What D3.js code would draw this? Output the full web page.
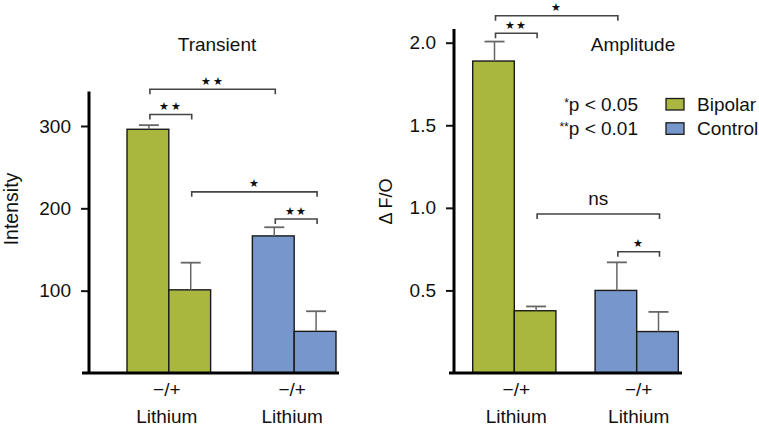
<!DOCTYPE html>
<html>
<head>
<meta charset="utf-8">
<script src="https://cdn.jsdelivr.net/npm/d3@7"></script>
<style>
  html, body { margin: 0; padding: 0; background: #fff; }
  svg { display: block; }
  text { font-family: "Liberation Sans", Arial, Helvetica, sans-serif; fill: #111; }
</style>
</head>
<body>
<svg id="chart" width="759" height="428"></svg>
<script>
// ---------- data ----------
const groups = ["Bipolar", "Control"];
const treatments = ["-", "+"];
const groupColors = ["#a9b73f", "#7796cb"];

const transientMeans = [[296, 101], [166.5, 50.6]];
const transientErrors = [[5, 33], [10.5, 24.4]];
const transientTicks = [100, 200, 300];

const amplitudeMeans = [[1.889, 0.377], [0.5, 0.251]];
const amplitudeErrors = [[0.118, 0.026], [0.17, 0.119]];
const amplitudeTicks = [0.5, 1.0, 1.5, 2.0];

// brackets: [groupA, treatA, groupB, treatB, level, label]
const transientBrackets = [
  [0, 0, 0, 1, 314, "★★"],
  [0, 0, 1, 0, 344.6, "★★"],
  [0, 1, 1, 1, 220, "★"],
  [1, 0, 1, 1, 187, "★★"]
];
const amplitudeBrackets = [
  [0, 0, 0, 1, 2.057, "★★"],
  [0, 0, 1, 0, 2.163, "★"],
  [0, 1, 1, 1, 0.963, "ns"],
  [1, 0, 1, 1, 0.734, "★"]
];

const xLabelTop = "\u2212/+";
const xLabelBottom = "Lithium";
const pValueNotes = [["*", "p < 0.05"], ["**", "p < 0.01"]];

// ---------- drawing ----------
const svg = d3.select("#chart");
const baseY = 373;
const FS = 19;

function panel(cfg) {
  const g = svg.append("g");
  const y = d3.scaleLinear().domain([0, cfg.yMax]).range([baseY, cfg.yTop]);
  const xg = d3.scaleBand().domain(d3.range(groups.length)).range(cfg.barRange).paddingInner(cfg.pad).paddingOuter(0);
  const xs = d3.scaleBand().domain(d3.range(treatments.length)).range([0, xg.bandwidth()]);
  const cx = (gi, ti) => xg(gi) + xs(ti) + xs.bandwidth() / 2;

  // bars
  groups.forEach((gName, gi) => {
    treatments.forEach((t, ti) => {
      const v = cfg.means[gi][ti];
      g.append("rect")
        .attr("x", xg(gi) + xs(ti))
        .attr("y", y(v))
        .attr("width", xs.bandwidth())
        .attr("height", y(0) - y(v))
        .attr("fill", groupColors[gi])
        .attr("stroke", "#1a1a1a")
        .attr("stroke-width", 1.4);
      // error bar
      const e = cfg.errors[gi][ti];
      const x = cx(gi, ti) + 1;
      g.append("line").attr("x1", x).attr("x2", x).attr("y1", y(v)).attr("y2", y(v + e))
        .attr("stroke", "#666").attr("stroke-width", 1.5);
      g.append("line").attr("x1", x - 10).attr("x2", x + 10).attr("y1", y(v + e)).attr("y2", y(v + e))
        .attr("stroke", "#666").attr("stroke-width", 1.8);
    });
  });

  // y axis
  const yAxis = d3.axisLeft(y).tickValues(cfg.ticks).tickSize(8).tickPadding(10)
    .tickFormat(cfg.fmt);
  const ya = g.append("g").attr("transform", `translate(${cfg.axisX},0)`).call(yAxis);
  ya.select(".domain").remove();
  ya.selectAll(".tick line").attr("stroke", "#111").attr("stroke-width", 2);
  ya.selectAll(".tick text").attr("font-size", FS)
    .attr("font-family", '"Liberation Sans", Arial, sans-serif').attr("fill", "#111");
  g.append("line").attr("x1", cfg.axisX).attr("x2", cfg.axisX)
    .attr("y1", cfg.yTop).attr("y2", baseY + 1).attr("stroke", "#000").attr("stroke-width", 3);
  // x axis line
  g.append("line").attr("x1", cfg.xAxisRange[0]).attr("x2", cfg.xAxisRange[1])
    .attr("y1", baseY).attr("y2", baseY).attr("stroke", "#000").attr("stroke-width", 3);

  // x labels
  groups.forEach((gName, gi) => {
    const c = xg(gi) + xg.bandwidth() / 2 + cfg.labelShift;
    g.append("text").attr("x", c).attr("y", 396).attr("text-anchor", "middle")
      .attr("font-size", FS).text(xLabelTop);
    g.append("text").attr("x", c).attr("y", 423).attr("text-anchor", "middle")
      .attr("font-size", FS).text(xLabelBottom);
  });

  // title
  g.append("text").attr("x", cfg.titleX).attr("y", 50.5).attr("text-anchor", "middle")
    .attr("font-size", FS).text(cfg.title);

  // y label
  g.append("text").attr("transform", `translate(${cfg.yLabelX},${cfg.yLabelY}) rotate(-90)`)
    .attr("text-anchor", "middle").attr("font-size", cfg.yLabelSize).text(cfg.yLabel);

  // brackets
  cfg.brackets.forEach(b => {
    const x1 = cx(b[0], b[1]) + 2, x2 = cx(b[2], b[3]) + 2, yy = y(b[4]);
    g.append("path").attr("d", `M${x1},${yy + 5}V${yy}H${x2}V${yy + 5}`)
      .attr("fill", "none").attr("stroke", "#444").attr("stroke-width", 1.6);
    const mid = (x1 + x2) / 2;
    if (b[5] === "ns") {
      g.append("text").attr("x", mid).attr("y", yy - 9).attr("text-anchor", "middle")
        .attr("font-size", FS).text(b[5]);
    } else {
      g.append("text").attr("x", mid).attr("y", yy - 4.5).attr("text-anchor", "middle")
        .attr("font-family", "DejaVu Sans").attr("font-size", 10.5).attr("letter-spacing", 1.5)
        .text(b[5]);
    }
  });
  return g;
}

panel({
  means: transientMeans, errors: transientErrors, ticks: transientTicks,
  fmt: d3.format("d"), yMax: 342, yTop: 91.4, axisX: 89,
  barRange: [127, 336], pad: 0.333, xAxisRange: [82, 339], labelShift: -2,
  title: "Transient", titleX: 217, yLabel: "Intensity", yLabelX: 17.5, yLabelY: 209, yLabelSize: 19.5,
  brackets: transientBrackets
});

panel({
  means: amplitudeMeans, errors: amplitudeErrors, ticks: amplitudeTicks,
  fmt: d3.format(".1f"), yMax: 2.083, yTop: 29, axisX: 454,
  barRange: [472.7, 678.3], pad: 0.32, xAxisRange: [449, 682], labelShift: 2,
  title: "Amplitude", titleX: 633, yLabel: "\u0394 F/O", yLabelX: 392, yLabelY: 201.5, yLabelSize: 18,
  brackets: amplitudeBrackets
});

// p-value notes
pValueNotes.forEach((n, i) => {
  const t = svg.append("text").attr("x", 638).attr("y", 110.5 + i * 24.3)
    .attr("text-anchor", "end").attr("font-size", FS);
  t.append("tspan").attr("font-size", 12).attr("dy", -4).text(n[0]);
  t.append("tspan").attr("dy", 4).text(n[1]);
});

// legend
groups.forEach((gName, i) => {
  svg.append("rect").attr("x", 666).attr("y", 98.5 + i * 24.3).attr("width", 18).attr("height", 11.5)
    .attr("fill", groupColors[i]).attr("stroke", "#1a1a1a").attr("stroke-width", 1.3);
  svg.append("text").attr("x", 697).attr("y", 110.5 + i * 24.3).attr("font-size", FS).text(gName);
});
</script>
</body>
</html>
